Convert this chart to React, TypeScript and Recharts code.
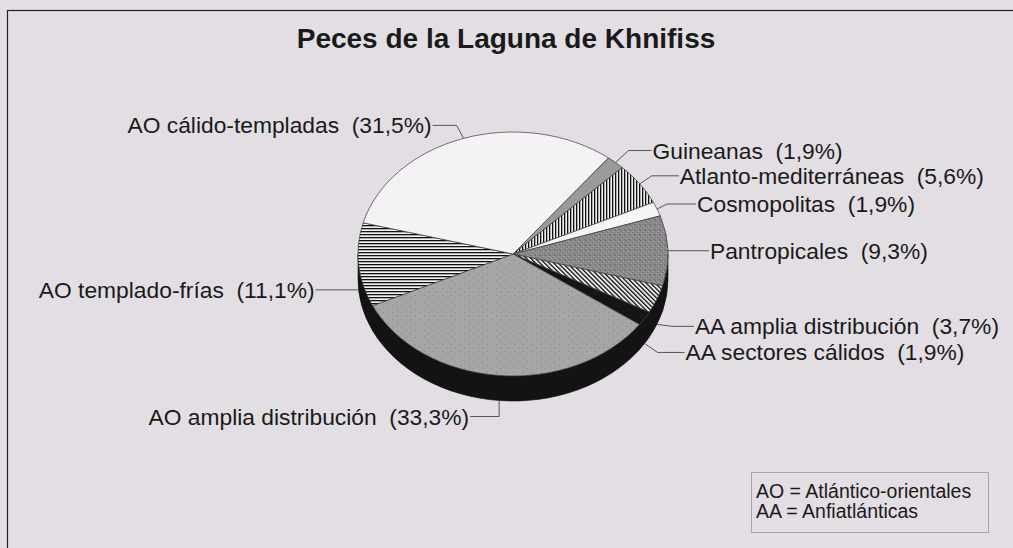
import React from 'react';
import { PieChart, Pie, Cell } from 'recharts';

// ---- data ----
const categories = [
  'Guineanas',
  'Atlanto-mediterráneas',
  'Cosmopolitas',
  'Pantropicales',
  'AA amplia distribución',
  'AA sectores cálidos',
  'AO amplia distribución',
  'AO templado-frías',
  'AO cálido-templadas',
];
const percentages = [1.9, 5.6, 1.9, 9.3, 3.7, 1.9, 33.3, 11.1, 31.5];
const chartTitle = 'Peces de la Laguna de Khnifiss';
const legendLines = ['AO = Atlántico-orientales', 'AA = Anfiatlánticas'];

// ---- styles / layout ----
const sliceFills = [
  '#9b999b',
  'url(#pVert)',
  '#f6f4f6',
  'url(#pDots)',
  'url(#pDiag)',
  '#151515',
  'url(#pSpeck)',
  'url(#pHoriz)',
  '#f4f2f4',
];
// label offsets relative to slice anchor: text position (tx, ty), elbow x offset (ex)
const labelLayout = [
  { tx: 37, ty: -12, ex: 13 },
  { tx: 40, ty: -8, ex: 12 },
  { tx: 40, ty: -5, ex: 10 },
  { tx: 42, ty: 0, ex: 0 },
  { tx: 38, ty: 2, ex: 16 },
  { tx: 41, ty: 9, ex: 13 },
  { tx: -30, ty: 16, ex: 0 },
  { tx: -44, ty: 0, ex: 0 },
  { tx: -32, ty: -13, ex: -7 },
];

const W = 1013;
const H = 548;
const CX = 508;
const CY = 249;
const RX = 155;
const RY = 122;
const K = RY / RX;
const DEPTH = 25;
const FONT = '"Liberation Sans", Arial, Helvetica, sans-serif';
const BG = '#e3dee3';

const data = categories.map((name, i) => ({ name, value: percentages[i] }));

const RAD = Math.PI / 180;
function pt(cx: number, cy: number, rx: number, ry: number, a: number): [number, number] {
  return [cx + rx * Math.cos(a * RAD), cy - ry * Math.sin(a * RAD)];
}

function EllipseSector(props: any) {
  const { cx, cy, outerRadius, startAngle, endAngle, fill } = props;
  const rx = outerRadius;
  const ry = outerRadius * K;
  const lo = Math.min(startAngle, endAngle);
  const hi = Math.max(startAngle, endAngle);
  const walls: string[] = [];
  for (let k = -2; k <= 2; k++) {
    const a = -180 + 360 * k;
    const b = 360 * k;
    const p = Math.max(lo, a);
    const q = Math.min(hi, b);
    if (q - p > 1e-6) {
      const [x1, y1] = pt(cx, cy, rx, ry, p);
      const [x2, y2] = pt(cx, cy, rx, ry, q);
      walls.push(
        `M${x1},${y1} A${rx},${ry} 0 0 0 ${x2},${y2} L${x2},${y2 + DEPTH} A${rx},${ry} 0 0 1 ${x1},${y1 + DEPTH} Z`
      );
    }
  }
  const [sx, sy] = pt(cx, cy, rx, ry, startAngle);
  const [ex, ey] = pt(cx, cy, rx, ry, endAngle);
  const large = Math.abs(startAngle - endAngle) > 180 ? 1 : 0;
  const sweep = startAngle > endAngle ? 1 : 0;
  const top = `M${cx},${cy} L${sx},${sy} A${rx},${ry} 0 ${large} ${sweep} ${ex},${ey} Z`;
  return (
    <g>
      {walls.map((d, i) => (
        <path key={i} d={d} fill="#131313" stroke="#0a0a0a" strokeWidth={0.6} />
      ))}
      <path d={top} fill={fill} stroke="#3a3a3a" strokeWidth={0.7} strokeLinejoin="round" />
    </g>
  );
}

const fmt = (v: number) => v.toFixed(1).replace('.', ',');

function renderLabel(props: any) {
  const { cx, cy, midAngle, outerRadius, index } = props;
  const rx = outerRadius;
  const ry = outerRadius * K;
  let [ax, ay] = pt(cx, cy, rx, ry, midAngle);
  if (Math.sin(midAngle * RAD) < 0) ay += DEPTH;
  const L = labelLayout[index];
  const tx = ax + L.tx;
  const ty = ay + L.ty;
  const elx = ax + L.ex;
  const right = L.tx > 0;
  const lineEnd = right ? tx - 1 : tx + 1;
  const text = `${categories[index]}  (${fmt(percentages[index])}%)`;
  return (
    <g key={`lbl-${index}`}>
      <polyline
        points={`${ax},${ay} ${elx},${ty} ${lineEnd},${ty}`}
        fill="none"
        stroke="#555"
        strokeWidth={1}
      />
      <text
        x={tx}
        y={ty + 8}
        textAnchor={right ? 'start' : 'end'}
        fontFamily={FONT}
        fontSize={22.8}
        fill="#1a1a1a"
        style={{ whiteSpace: 'pre' }}
      >
        {text}
      </text>
    </g>
  );
}

export default function App() {
  return (
    <div style={{ position: 'absolute', left: 0, top: 0, width: W, height: H, background: BG, overflow: 'hidden' }}>
      <svg width={W} height={H} style={{ position: 'absolute', left: 0, top: 0 }}>
        <defs>
          <pattern id="pVert" width="3" height="3" patternUnits="userSpaceOnUse">
            <rect width="3" height="3" fill="#eeeeee" />
            <rect width="1.3" height="3" fill="#111" />
          </pattern>
          <pattern id="pHoriz" width="3" height="3" patternUnits="userSpaceOnUse">
            <rect width="3" height="3" fill="#f2f2f2" />
            <rect width="3" height="1.3" fill="#111" />
          </pattern>
          <pattern id="pDiag" width="3.2" height="3.2" patternUnits="userSpaceOnUse" patternTransform="rotate(-45)">
            <rect width="3.2" height="3.2" fill="#eeeeee" />
            <rect width="1.3" height="3.2" fill="#111" />
          </pattern>
          <pattern id="pDots" width="5" height="5" patternUnits="userSpaceOnUse">
            <rect width="5" height="5" fill="#8b898b" />
            <rect x="0" y="0" width="1" height="1" fill="#666" />
            <rect x="3" y="1" width="1" height="1" fill="#a9a9a9" />
            <rect x="1" y="3" width="1" height="1" fill="#a4a4a4" />
            <rect x="4" y="4" width="1" height="1" fill="#6a6a6a" />
            <rect x="2" y="2" width="1" height="1" fill="#707070" />
          </pattern>
          <pattern id="pSpeck" width="9" height="7" patternUnits="userSpaceOnUse">
            <rect width="9" height="7" fill="#a7a5a7" />
            <rect x="1" y="1" width="1" height="1" fill="#838183" />
            <rect x="5" y="4" width="1" height="1" fill="#8a888a" />
          </pattern>
        </defs>
        <rect x={7.5} y={10.5} width={1040} height={580} fill="none" stroke="#222" strokeWidth={1.2} />
        <text x={506} y={48} textAnchor="middle" fontFamily={FONT} fontWeight="bold" fontSize={28} fill="#1a1a1a">
          {chartTitle}
        </text>
        <rect x={751.5} y={472.5} width={237} height={60} fill="none" stroke="#a8a4a8" strokeWidth={1} />
        {legendLines.map((l, i) => (
          <text key={i} x={756} y={498 + i * 20} fontFamily={FONT} fontSize={19.5} fill="#1a1a1a">
            {l}
          </text>
        ))}
      </svg>
      <div style={{ position: 'absolute', left: 0, top: 0 }}>
        <PieChart width={W} height={H}>
          <Pie
            data={data}
            dataKey="value"
            nameKey="name"
            cx={CX}
            cy={CY}
            innerRadius={0}
            outerRadius={RX}
            startAngle={52}
            endAngle={-308}
            isAnimationActive={false}
            label={renderLabel}
            labelLine={false}
            shape={EllipseSector}
            inactiveShape={EllipseSector}
            activeShape={EllipseSector}
            stroke="none"
          >
            {data.map((d, i) => (
              <Cell key={d.name} fill={sliceFills[i]} />
            ))}
          </Pie>
        </PieChart>
      </div>
    </div>
  );
}
